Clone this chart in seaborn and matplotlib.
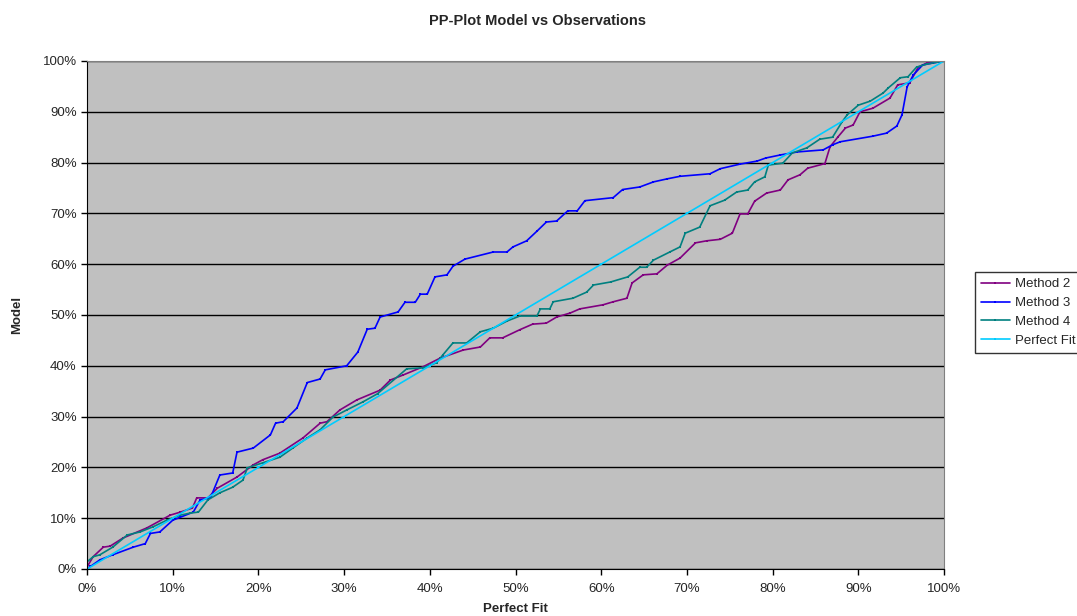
import numpy as np
import pandas as pd
import matplotlib
matplotlib.use("Agg")
import matplotlib.pyplot as plt
import seaborn as sns
from matplotlib.ticker import PercentFormatter

# values, in percent
m2_x = [0, 0.7, 1.9, 2.7, 4.2, 7.0, 9.7, 10.9, 12.3, 12.8, 14.1, 15.2, 17.5, 19.4, 20.5, 22.5,
        25.2, 27.2, 28.0, 29.5, 31.5, 34.2, 35.4, 36.9, 39.2, 41.2, 43.9, 45.9, 47.0, 48.5,
        50.5, 52.0, 53.6, 54.8, 56.4, 57.5, 60.2, 61.4, 63.0, 63.6, 64.9, 66.5, 67.7, 69.2,
        71.0, 72.3, 73.9, 75.3, 76.2, 77.1, 77.9, 79.3, 80.9, 81.8, 83.2, 84.1, 86.1, 86.7,
        87.6, 88.5, 89.4, 90.2, 91.7, 93.7, 94.6, 96.0, 97.0, 98.0, 100]
m2_y = [0.4, 2.4, 4.3, 4.5, 6.1, 8.1, 10.6, 11.2, 12.0, 14.0, 14.0, 15.9, 18.1, 20.5, 21.5, 22.8,
        25.8, 28.7, 29.0, 31.3, 33.3, 35.2, 37.2, 38.2, 39.8, 41.5, 43.1, 43.7, 45.5, 45.5,
        47.1, 48.2, 48.4, 49.6, 50.4, 51.2, 52.0, 52.6, 53.3, 56.3, 57.9, 58.1, 59.8, 61.2,
        64.2, 64.6, 64.9, 66.1, 69.9, 69.9, 72.4, 74.0, 74.6, 76.6, 77.6, 78.9, 79.8, 83.1,
        85.0, 86.8, 87.4, 90.0, 90.7, 92.7, 95.3, 95.7, 98.8, 99.6, 100]

m3_x = [0, 0.4, 1.5, 3.0, 5.4, 6.8, 7.4, 8.5, 10.0, 10.9, 12.4, 13.2, 14.4, 15.5, 17.0, 17.5,
        19.4, 21.4, 22.0, 22.9, 24.5, 25.7, 27.2, 27.8, 30.3, 31.6, 32.7, 33.6, 34.2, 36.3,
        37.1, 38.3, 38.9, 39.7, 40.6, 42.0, 42.7, 44.1, 47.4, 49.0, 49.7, 51.3, 52.5, 53.6,
        54.8, 56.1, 57.2, 58.1, 61.4, 62.5, 64.5, 66.1, 67.7, 69.2, 72.7, 73.9, 76.2, 78.2,
        79.2, 80.9, 82.9, 85.9, 87.0, 87.9, 91.7, 93.3, 94.5, 95.1, 95.7, 96.4, 97.5, 98.7, 100]
m3_y = [0, 0.5, 1.8, 2.8, 4.3, 5.0, 7.0, 7.3, 9.6, 10.2, 11.2, 13.6, 14.0, 18.5, 18.9, 23.0,
        23.8, 26.4, 28.7, 29.0, 31.7, 36.7, 37.4, 39.2, 40.0, 42.7, 47.2, 47.4, 49.6, 50.6,
        52.5, 52.5, 54.1, 54.1, 57.5, 57.9, 59.6, 61.0, 62.4, 62.4, 63.4, 64.6, 66.5, 68.3,
        68.5, 70.5, 70.5, 72.5, 73.1, 74.7, 75.2, 76.2, 76.8, 77.3, 77.8, 78.8, 79.7, 80.3,
        80.9, 81.5, 82.1, 82.5, 83.5, 84.1, 85.2, 85.8, 87.2, 89.4, 94.9, 97.2, 99.2, 99.6, 100]

m4_x = [0, 0.7, 1.5, 3.0, 4.7, 6.2, 7.7, 9.3, 10.9, 12.0, 13.0, 14.1, 15.5, 17.0, 18.2, 18.7,
        20.5, 22.5, 24.0, 25.7, 27.2, 28.7, 30.3, 32.2, 33.9, 37.3, 39.2, 40.8, 41.5, 42.7,
        44.3, 45.9, 47.4, 49.0, 50.5, 52.5, 52.9, 54.0, 54.4, 56.7, 58.3, 59.1, 61.1, 63.1,
        64.5, 65.3, 66.1, 68.0, 69.2, 69.8, 71.5, 72.7, 74.4, 75.8, 77.1, 77.9, 79.1, 79.5,
        81.2, 82.3, 84.0, 85.5, 87.0, 88.1, 88.7, 90.0, 91.4, 92.9, 93.5, 94.9, 95.8, 96.8,
        98.0, 100]
m4_y = [1.4, 2.4, 2.8, 4.3, 6.7, 7.3, 8.3, 9.6, 10.6, 11.0, 11.2, 13.6, 15.0, 16.1, 17.5, 19.9,
        20.9, 22.0, 23.8, 25.8, 27.4, 29.9, 31.3, 32.9, 34.5, 39.4, 39.6, 40.6, 42.1, 44.5,
        44.5, 46.7, 47.4, 48.8, 49.8, 49.8, 51.2, 51.2, 52.6, 53.3, 54.5, 55.9, 56.5, 57.5,
        59.4, 59.4, 60.8, 62.4, 63.4, 66.1, 67.3, 71.5, 72.6, 74.2, 74.6, 76.2, 77.2, 79.5,
        79.9, 81.9, 82.9, 84.6, 85.0, 88.0, 89.4, 91.3, 92.1, 93.7, 94.7, 96.7, 96.9, 98.8,
        99.4, 100]

fit_x = [0, 10, 20, 30, 40, 50, 60, 70, 80, 90, 100]
fit_y = [0, 10, 20, 30, 40, 50, 60, 70, 80, 90, 100]

series = ["Method 2", "Method 3", "Method 4", "Perfect Fit"]
colors = ["#800080", "#0000FF", "#008080", "#00CCFF"]

df = pd.concat([
    pd.DataFrame({"x": m2_x, "y": m2_y, "series": "Method 2"}),
    pd.DataFrame({"x": m3_x, "y": m3_y, "series": "Method 3"}),
    pd.DataFrame({"x": m4_x, "y": m4_y, "series": "Method 4"}),
    pd.DataFrame({"x": fit_x, "y": fit_y, "series": "Perfect Fit"}),
])

sns.set_style("white")
plt.rcParams["font.family"] = ["Liberation Sans", "DejaVu Sans"]

fig = plt.figure(figsize=(10.77, 6.16), dpi=100)
ax = fig.add_axes([0.0808, 0.0763, 0.7957, 0.8247])
ax.set_facecolor("#C0C0C0")

sns.lineplot(data=df, x="x", y="y", hue="series", hue_order=series,
             palette=colors, sort=False, estimator=None, ax=ax,
             linewidth=1.2, marker="s", markersize=1.6, markeredgewidth=0)

ax.set_xlim(0, 100)
ax.set_ylim(0, 100)
ax.set_xticks(np.arange(0, 101, 10))
ax.set_yticks(np.arange(0, 101, 10))
ax.xaxis.set_major_formatter(PercentFormatter(decimals=0))
ax.yaxis.set_major_formatter(PercentFormatter(decimals=0))
ax.yaxis.grid(True, color="black", linewidth=1)
ax.xaxis.grid(False)
ax.set_axisbelow(True)
ax.tick_params(axis="both", length=4, width=1, color="black", labelsize=9.5,
               bottom=True, left=True, direction="out")
ax.tick_params(axis="x", pad=6)
for s in ["left", "bottom"]:
    ax.spines[s].set_color("black")
for s in ["top", "right"]:
    ax.spines[s].set_color("#808080")

ax.set_xlabel("Perfect Fit", fontsize=9.5, fontweight="bold", labelpad=6)
ax.set_ylabel("Model", fontsize=9.5, fontweight="bold", labelpad=14)
fig.text(0.499, 0.966, "PP-Plot Model vs Observations", ha="center", va="center",
         fontsize=10.5, fontweight="bold")

leg = ax.legend(loc="center left", bbox_to_anchor=(1.028, 0.505), frameon=True,
                fancybox=False, edgecolor="black", fontsize=9.5, handlelength=2.2,
                borderpad=0.45, labelspacing=0.5, handletextpad=0.4)
leg.get_frame().set_linewidth(1)
leg.set_title(None)

fig.savefig("out.png", dpi=100)
